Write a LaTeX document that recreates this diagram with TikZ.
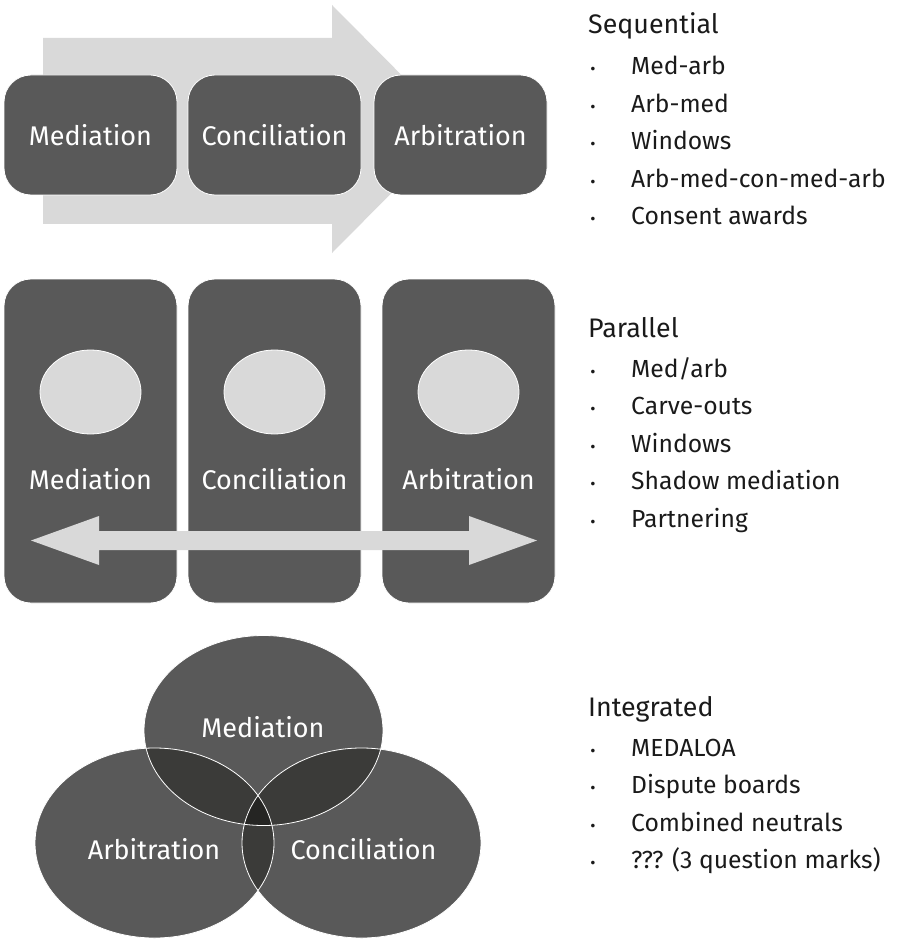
\documentclass[tikz,border=0pt]{standalone}
\usepackage{fontspec}
\setmainfont{Fira Sans}
\usetikzlibrary{shapes.geometric}
\definecolor{dk}{HTML}{595959}
\definecolor{lt}{HTML}{D9D9D9}
\definecolor{ov}{HTML}{3B3B39}
\definecolor{ovt}{HTML}{252523}
\definecolor{txt}{HTML}{1A1A1A}
\begin{document}
\begin{tikzpicture}[x=1pt,y=-1pt,
  box/.style={rectangle, rounded corners=27pt, fill=dk, draw=white, line width=0.8pt, inner sep=0pt, text=white, font=\fontsize{27}{32}\selectfont},
  lbl/.style={text=white, inner sep=0pt, font=\fontsize{27}{32}\selectfont},
  ovl/.style={ellipse, fill=lt, draw=white, line width=0.8pt, inner sep=0pt, minimum width=101pt, minimum height=84pt},
  hdr/.style={anchor=base west, inner sep=0pt, text=txt, font=\fontsize{26.8}{31}\selectfont},
  itm/.style={anchor=base west, inner sep=0pt, text=txt, font=\fontsize{24.7}{29}\selectfont},
  bul/.style={anchor=base, inner sep=0pt, text=txt, font=\fontsize{16}{20}\selectfont},
  vtxt/.style={text=white, inner sep=0pt, font=\fontsize{27}{32}\selectfont}
]
\useasboundingbox (0,0) rectangle (896,941);

% ---------- Sequential ----------
\fill[lt] (43,38) -- (332,38) -- (332,5) -- (455,129) -- (332,253) -- (332,224) -- (43,224) -- cycle;
\node[box, minimum width=173pt, minimum height=120pt] (s1) at (90.5,135) {Mediation};
\node[box, minimum width=173pt, minimum height=120pt] (s2) at (274.5,135) {Conciliation};
\node[box, minimum width=173pt, minimum height=120pt] (s3) at (460.5,135) {Arbitration};

% ---------- Parallel ----------
\node[box, minimum width=173pt, minimum height=324pt] (p1) at (90.5,441) {};
\node[box, minimum width=173pt, minimum height=324pt] (p2) at (274.5,441) {};
\node[box, minimum width=173pt, minimum height=324pt] (p3) at (468.5,441) {};
\node[ovl] (e1) at (90.5,392) {};
\node[ovl] (e2) at (274.5,392) {};
\node[ovl] (e3) at (468.5,392) {};
\node[lbl] (l1) at (90.5,479) {Mediation};
\node[lbl] (l2) at (274.5,479) {Conciliation};
\node[lbl] (l3) at (468.5,479) {Arbitration};
\fill[lt] (31,540.5) -- (99,516) -- (99,531) -- (469,531) -- (469,516) -- (537,540.5)
  -- (469,565) -- (469,550) -- (99,550) -- (99,565) -- cycle;

% ---------- Integrated ----------
\coordinate (vm) at (263.5,730.5);
\coordinate (va) at (154.5,843);
\coordinate (vc) at (361.5,843);
\fill[dk] (vm) ellipse [x radius=119.5pt, y radius=95pt];
\fill[dk] (va) ellipse [x radius=119.5pt, y radius=95pt];
\fill[dk] (vc) ellipse [x radius=119.5pt, y radius=95pt];
\begin{scope}
  \clip (vm) ellipse [x radius=119.5pt, y radius=95pt];
  \fill[ov] (va) ellipse [x radius=119.5pt, y radius=95pt];
  \fill[ov] (vc) ellipse [x radius=119.5pt, y radius=95pt];
\end{scope}
\begin{scope}
  \clip (va) ellipse [x radius=119.5pt, y radius=95pt];
  \fill[ov] (vc) ellipse [x radius=119.5pt, y radius=95pt];
\end{scope}
\begin{scope}
  \clip (vm) ellipse [x radius=119.5pt, y radius=95pt];
  \clip (va) ellipse [x radius=119.5pt, y radius=95pt];
  \fill[ovt] (vc) ellipse [x radius=119.5pt, y radius=95pt];
\end{scope}
\draw[white, line width=0.8pt] (vm) ellipse [x radius=119.5pt, y radius=95pt];
\draw[white, line width=0.8pt] (va) ellipse [x radius=119.5pt, y radius=95pt];
\draw[white, line width=0.8pt] (vc) ellipse [x radius=119.5pt, y radius=95pt];
\node[vtxt] (tm) at (263,727) {Mediation};
\node[vtxt] (ta) at (154,849) {Arbitration};
\node[vtxt] (tc) at (363.5,849) {Conciliation};

% ---------- Lists ----------
\node[hdr] (h1) at (588,34) {Sequential};
\foreach \t [count=\i] in {Med-arb, Arb-med, Windows, Arb-med-con-med-arb, Consent awards}{
  \node[bul] (b1\i) at (593,37.5+37.5*\i) {•};
  \node[itm] (i1\i) at (631,37.5+37.5*\i) {\t};
}
\node[hdr] (h2) at (588,337) {Parallel};
\foreach \t [count=\i] in {Med/arb, Carve-outs, Windows, Shadow mediation, Partnering}{
  \node[bul] (b2\i) at (593,339.5+37.5*\i) {•};
  \node[itm] (i2\i) at (631,339.5+37.5*\i) {\t};
}
\node[hdr] (h3) at (588,716) {Integrated};
\foreach \t [count=\i] in {MEDALOA, Dispute boards, Combined neutrals, {??? (3 question marks)}}{
  \node[bul] (b3\i) at (593,718.5+37.5*\i) {•};
  \node[itm] (i3\i) at (631,718.5+37.5*\i) {\t};
}
\end{tikzpicture}
\end{document}
